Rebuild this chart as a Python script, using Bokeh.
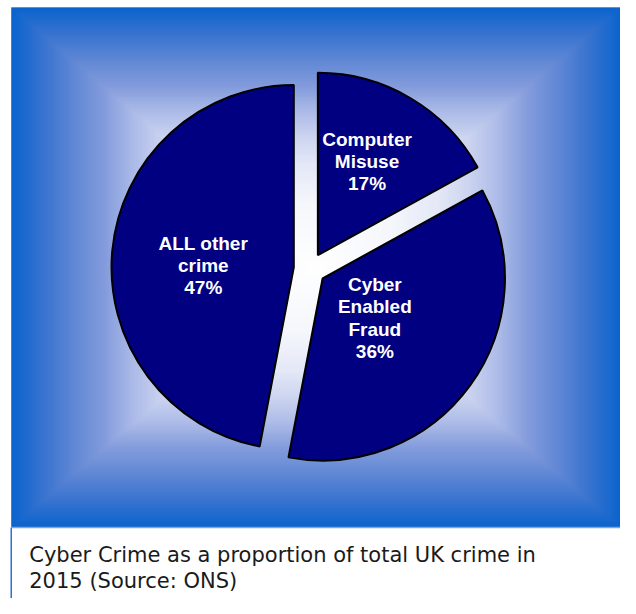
import numpy as np
from bokeh.plotting import figure
from bokeh.models import Range1d
from bokeh.embed import file_html
from bokeh.resources import INLINE
from bokeh.core.properties import value

# ---------------- data ----------------
categories = ["Computer Misuse", "Cyber Enabled Fraud", "ALL other crime"]
label_lines = [["Computer", "Misuse"], ["Cyber", "Enabled", "Fraud"], ["ALL other", "crime"]]
shares = [17, 36, 47]
caption_lines = ["Cyber Crime as a proportion of total UK crime in", "2015 (Source: ONS)"]

# ---------------- layout ----------------
REF_W, REF_H = 636, 614          # reference picture size (layout units)
W, H = 620, 598                  # canvas size in px
S = W / REF_W                    # px per layout unit


def Y(sy):
    return REF_H - sy


def fs(px):
    return "%.1fpx" % (px * S)


p = figure(width=W, height=H, x_range=Range1d(0, REF_W), y_range=Range1d(0, REF_H),
           output_backend="svg", toolbar_location=None, min_border=0,
           x_axis_type=None, y_axis_type=None)
p.grid.visible = False
p.outline_line_color = None
p.background_fill_color = "white"
p.border_fill_color = "white"

# background rectangular gradient (blue edges -> white centre)
bx0, bx1, by0, by1 = 11, 636, 7, 541
gw, gh = bx1 - bx0, by1 - by0
gx = np.arange(gw) + 0.5 + bx0
gy = np.arange(gh) + 0.5 + by0
GX, GY = np.meshgrid(gx, gy)
gcx, gcy = (bx0 + bx1) / 2, (by0 + by1) / 2
s = 1 - np.maximum(np.abs(GX - gcx) / (gw / 2), np.abs(GY - gcy) / (gh / 2))
stop_s = [0.0, 0.1, 0.2, 0.3, 0.4, 0.5, 0.6, 0.75, 1.0]
stop_r = [10, 55, 95, 130, 172, 205, 228, 245, 255]
stop_g = [100, 115, 135, 155, 187, 213, 232, 247, 255]
stop_b = [205, 208, 213, 220, 232, 240, 247, 252, 255]
img = np.empty((gh, gw), dtype=np.uint32)
view = img.view(dtype=np.uint8).reshape((gh, gw, 4))
view[..., 0] = np.interp(s, stop_s, stop_r).astype(np.uint8)
view[..., 1] = np.interp(s, stop_s, stop_g).astype(np.uint8)
view[..., 2] = np.interp(s, stop_s, stop_b).astype(np.uint8)
view[..., 3] = 255
img = img[::-1].copy()
p.image_rgba(image=[img], x=bx0, y=Y(by1), dw=gw, dh=gh)

# caption box borders
p.line(x=[bx0, bx0], y=[Y(by1), Y(620)], line_color="#2f6fd0", line_width=1.5)
p.line(x=[bx0, 640], y=[Y(by1), Y(by1)], line_color="#7aa5e8", line_width=1.5)

# pie
total = float(sum(shares))
ang = np.pi / 2 - 2 * np.pi * np.cumsum([0] + shares) / total
starts = ang[:-1]
ends = ang[1:]
mids = (starts + ends) / 2
pcx, pcy = 317.2, Y(275.6)
R = 187
explode = 16.4
wx = pcx + explode * np.cos(mids)
wy = pcy + explode * np.sin(mids)
p.wedge(x=wx, y=wy, radius=R, start_angle=ends, end_angle=starts, direction="anticlock",
        fill_color="#000080", line_color="black", line_width=2)

# slice labels (anchor = first-line baseline, offset from pie centre)
label_anchor = [(58.8, -132.9), (66.8, 16.1), (-109.2, -26.6)]
line_step = 22.8
tx, ty, tt = [], [], []
for lines, share, (dx, dy) in zip(label_lines, shares, label_anchor):
    for i, t in enumerate(lines + ["%d%%" % share]):
        tx.append(pcx + dx)
        ty.append(pcy - dy - i * line_step)
        tt.append(t)
p.text(x=tx, y=ty, text=tt, text_font=value("Liberation Sans"), text_font_style="bold",
       text_font_size=fs(19.5), text_color="white", text_align="center",
       text_baseline="alphabetic")

# caption
cap_y = [569, 596]
p.text(x=[29.5] * len(caption_lines), y=[Y(v) for v in cap_y], text=caption_lines,
       text_font=value("DejaVu Sans"), text_font_size=fs(21.5), text_color="#1a1a1a",
       text_align="left", text_baseline="alphabetic")

open("out.html", "w").write(file_html(p, INLINE))
